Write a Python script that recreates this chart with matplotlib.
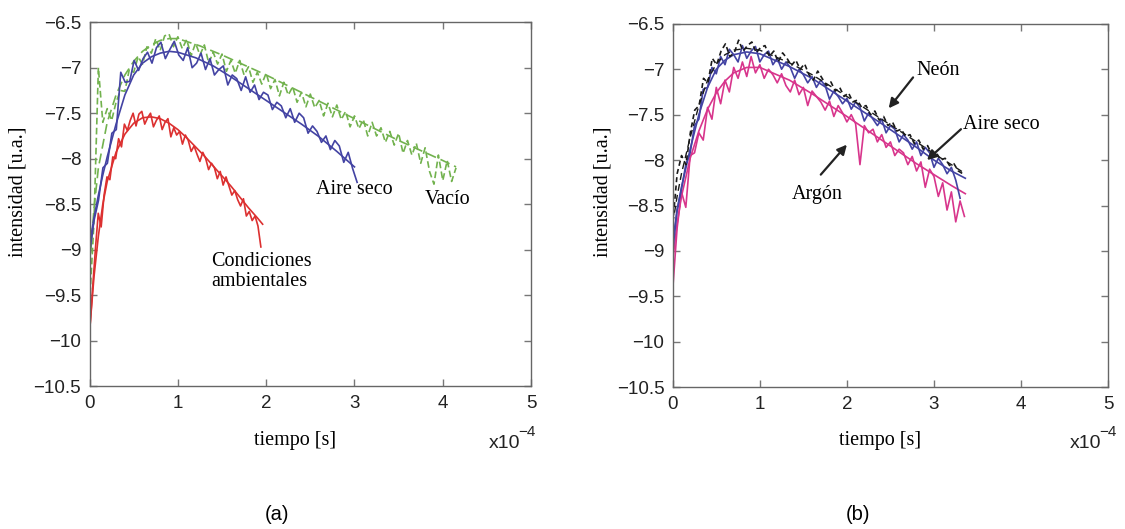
import numpy as np
import matplotlib
matplotlib.use("Agg")
import matplotlib.pyplot as plt

plt.rcParams['font.family'] = ['Liberation Sans', 'DejaVu Sans']

# ---------------- datos (a) ----------------
# tiempo en unidades de 1e-4 s
t_end_cond = 1.94
y_cond = [-9.92, -9.45, -9.00, -8.60, -8.75, -8.40, -8.20, -8.23, -7.98, -8.00,
          -7.78, -7.87, -7.62, -7.69, -7.58, -7.50, -7.64, -7.51, -7.48, -7.62,
          -7.55, -7.50, -7.65, -7.58, -7.53, -7.68, -7.60, -7.56, -7.76, -7.66,
          -7.74, -7.70, -7.84, -7.74, -7.80, -7.92, -7.86, -7.95, -8.03, -7.93,
          -8.00, -8.12, -8.05, -8.10, -8.22, -8.14, -8.29, -8.20, -8.30, -8.40,
          -8.35, -8.45, -8.52, -8.44, -8.63, -8.58, -8.68, -8.63, -8.74, -8.97]
t_cond_fit = [0, 0.05, 0.1, 0.15, 0.2, 0.3, 0.4, 0.5, 0.6, 0.7, 0.8, 0.9, 1.0,
              1.1, 1.2, 1.3, 1.4, 1.5, 1.6, 1.7, 1.8, 1.9, 1.96]
y_cond_fit = [-9.9, -9.3, -8.85, -8.5, -8.25, -7.93, -7.73, -7.61, -7.55, -7.54,
              -7.56, -7.61, -7.68, -7.77, -7.87, -7.97, -8.08, -8.19, -8.3, -8.42,
              -8.54, -8.65, -8.72]

t_end_aire = 3.03
y_aire = [-9.05, -8.68, -8.46, -8.10, -8.05, -7.72, -7.68, -7.05, -7.16, -7.15,
          -6.92, -7.03, -6.90, -6.83, -6.95, -6.78, -6.72, -6.90, -6.80, -6.71,
          -6.86, -6.92, -6.78, -7.00, -6.95, -6.84, -7.02, -6.90, -7.08, -7.02,
          -6.98, -7.19, -7.08, -7.12, -7.25, -7.10, -7.27, -7.19, -7.35, -7.27,
          -7.30, -7.46, -7.38, -7.42, -7.55, -7.45, -7.60, -7.50, -7.55, -7.72,
          -7.64, -7.70, -7.82, -7.75, -7.90, -7.80, -7.86, -8.04, -7.93, -8.11,
          -8.26]
t_aire_fit = [0, 0.05, 0.1, 0.15, 0.2, 0.3, 0.4, 0.5, 0.6, 0.7, 0.8, 0.9, 1.0,
              1.2, 1.4, 1.6, 1.8, 2.0, 2.2, 2.4, 2.6, 2.8, 3.0]
y_aire_fit = [-8.95, -8.65, -8.4, -8.18, -7.98, -7.62, -7.3, -7.08, -6.95, -6.88,
              -6.84, -6.82, -6.83, -6.89, -6.98, -7.1, -7.23, -7.36, -7.49, -7.62,
              -7.76, -7.92, -8.09]

t_end_vacio = 4.15
y_vacio = [-9.60, -8.70, -7.00, -7.60, -7.45, -7.58, -7.38, -7.25, -7.26, -7.02,
           -7.05, -6.88, -6.96, -6.77, -6.84, -6.68, -6.81, -6.65, -6.63, -6.77,
           -6.66, -6.79, -6.69, -6.87, -6.73, -6.86, -6.75, -6.95, -6.83, -6.96,
           -6.85, -7.04, -6.92, -7.06, -6.92, -7.08, -6.99, -7.16, -7.05, -7.18,
           -7.06, -7.23, -7.13, -7.31, -7.16, -7.30, -7.21, -7.38, -7.27, -7.43,
           -7.29, -7.44, -7.36, -7.53, -7.39, -7.54, -7.41, -7.57, -7.48, -7.65,
           -7.53, -7.67, -7.57, -7.75, -7.60, -7.75, -7.66, -7.82, -7.70, -7.85,
           -7.72, -7.94, -7.80, -7.96, -7.83, -8.05, -7.88, -8.14, -8.28, -7.96,
           -8.24, -8.02, -8.25, -8.10]
t_vacio_fit = [0, 0.05, 0.1, 0.2, 0.3, 0.4, 0.5, 0.6, 0.7, 0.8, 0.9, 1.0, 1.25,
               1.5, 1.75, 2.0, 2.5, 3.0, 3.5, 4.0, 4.15]
y_vacio_fit = [-9.2, -8.55, -8.1, -7.6, -7.3, -7.08, -6.93, -6.82, -6.75, -6.7,
               -6.68, -6.68, -6.76, -6.86, -6.97, -7.08, -7.32, -7.56, -7.8, -8.02,
               -8.09]

# ---------------- datos (b) ----------------
t_end_argon = 3.35
y_argon = [-9.42, -8.75, -8.35, -8.52, -7.95, -7.92, -7.70, -7.78, -7.42, -7.55,
           -7.20, -7.38, -7.12, -7.25, -6.98, -7.10, -6.92, -7.08, -6.86, -7.04,
           -6.95, -7.10, -7.00, -7.06, -7.15, -7.05, -7.18, -7.25, -7.12, -7.28,
           -7.20, -7.40, -7.24, -7.30, -7.36, -7.45, -7.35, -7.52, -7.40, -7.48,
           -7.58, -7.50, -7.60, -8.05, -7.62, -7.70, -7.66, -7.80, -7.72, -7.86,
           -7.80, -7.95, -7.88, -7.92, -8.05, -7.96, -8.12, -8.02, -8.30, -8.10,
           -8.18, -8.40, -8.25, -8.55, -8.35, -8.68, -8.45, -8.62]

t_end_aire_b = 3.30
y_aire_b = [-9.00, -8.55, -8.32, -8.05, -7.92, -7.62, -7.55, -7.22, -7.20, -6.98,
            -7.05, -6.86, -6.95, -6.78, -6.84, -6.92, -6.74, -6.88, -6.80, -6.75,
            -6.92, -6.84, -6.80, -6.95, -6.88, -7.00, -6.92, -6.98, -7.10, -7.00,
            -7.06, -7.15, -7.08, -7.20, -7.12, -7.18, -7.33, -7.24, -7.30, -7.38,
            -7.32, -7.44, -7.36, -7.42, -7.57, -7.48, -7.55, -7.62, -7.55, -7.70,
            -7.62, -7.66, -7.80, -7.72, -7.78, -7.88, -7.80, -7.95, -7.86, -7.92,
            -8.08, -7.98, -8.05, -8.15, -8.08, -8.22, -8.42]

t_end_neon = 3.33
y_neon = [-8.70, -8.15, -7.95, -8.05, -7.70, -7.45, -7.40, -7.10, -7.15, -6.88,
          -6.95, -6.80, -6.72, -6.86, -6.82, -6.68, -6.80, -6.74, -6.70, -6.82,
          -6.76, -6.74, -6.86, -6.80, -6.92, -6.82, -6.88, -6.96, -6.90, -7.00,
          -6.94, -7.06, -7.12, -7.02, -7.10, -7.18, -7.14, -7.24, -7.20, -7.30,
          -7.26, -7.36, -7.34, -7.42, -7.40, -7.50, -7.46, -7.56, -7.52, -7.62,
          -7.58, -7.68, -7.66, -7.74, -7.72, -7.82, -7.78, -7.88, -7.84, -7.94,
          -7.92, -8.00, -7.98, -8.06, -8.04, -8.12, -8.15]

t_fit_b = [0, 0.05, 0.1, 0.2, 0.3, 0.4, 0.5, 0.6, 0.7, 0.85, 1.0, 1.34, 1.6, 2.0,
           2.4, 2.8, 3.0, 3.2, 3.36]
y_argon_fit = [-9.1, -8.7, -8.4, -7.98, -7.68, -7.44, -7.26, -7.13, -7.04, -6.98,
               -6.98, -7.12, -7.27, -7.52, -7.78, -8.04, -8.16, -8.28, -8.37]
y_aire_b_fit = [-8.9, -8.55, -8.3, -7.88, -7.5, -7.2, -7.0, -6.9, -6.84, -6.81,
                -6.83, -6.97, -7.1, -7.35, -7.6, -7.86, -8.0, -8.12, -8.2]
y_neon_fit = [-8.7, -8.4, -8.15, -7.75, -7.4, -7.12, -6.94, -6.84, -6.79, -6.77,
              -6.79, -6.93, -7.06, -7.3, -7.55, -7.8, -7.93, -8.05, -8.15]

xticks = [0, 1, 2, 3, 4, 5]
yticks = [-10.5, -10, -9.5, -9, -8.5, -8, -7.5, -7, -6.5]
ytick_labels = ['\u221210.5', '\u221210', '\u22129.5', '\u22129', '\u22128.5',
                '\u22128', '\u22127.5', '\u22127', '\u22126.5']

RED = '#dc3030'
BLUE = '#4343a3'
GREEN = '#72b24e'
MAGENTA = '#d8358c'
BLACK = '#1a1a1a'
SERIF = 'Liberation Serif'


def tiempo(t_end, y):
    # muestreo regular desde 0 hasta t_end
    return np.linspace(0, t_end, len(y))


def estilo(ax):
    ax.set_xlim(0, 5)
    ax.set_ylim(-10.5, -6.5)
    ax.set_xticks(xticks)
    ax.set_yticks(yticks)
    ax.set_yticklabels(ytick_labels)
    ax.tick_params(direction='in', top=True, right=True, length=5, width=1,
                   color='#777777', labelsize=13.5, labelcolor='#222222', pad=6)
    for s in ax.spines.values():
        s.set_color('#666666')
        s.set_linewidth(1.0)


fig = plt.figure(figsize=(11.25, 5.29), dpi=100)

# ---------------- (a) ----------------
ax1 = fig.add_axes([0.0796, 0.270, 0.3925, 0.688])
ax1.plot(tiempo(t_end_vacio, y_vacio), y_vacio, color=GREEN, lw=1.2, ls=(0, (4, 2)))
ax1.plot(t_vacio_fit, y_vacio_fit, color=GREEN, lw=1.2, ls=(0, (6, 3)))
ax1.plot(tiempo(t_end_aire, y_aire), y_aire, color=BLUE, lw=1.2)
ax1.plot(t_aire_fit, y_aire_fit, color=BLUE, lw=1.2)
ax1.plot(tiempo(t_end_cond, y_cond), y_cond, color=RED, lw=1.2)
ax1.plot(t_cond_fit, y_cond_fit, color=RED, lw=1.2)
estilo(ax1)
ax1.text(3.0, -8.335, 'Aire seco', family=SERIF, fontsize=14.5, ha='center', va='center')
ax1.text(4.05, -8.45, 'Vacío', family=SERIF, fontsize=14.5, ha='center', va='center')
ax1.text(1.376, -9.24, 'Condiciones\nambientales', family=SERIF, fontsize=14.5,
         ha='left', va='center', linespacing=1.1)

# ---------------- (b) ----------------
ax2 = fig.add_axes([0.598, 0.268, 0.387, 0.687])
ax2.plot(tiempo(t_end_argon, y_argon), y_argon, color=MAGENTA, lw=1.2)
ax2.plot(t_fit_b, y_argon_fit, color=MAGENTA, lw=1.2)
ax2.plot(tiempo(t_end_aire_b, y_aire_b), y_aire_b, color=BLUE, lw=1.2)
ax2.plot(t_fit_b, y_aire_b_fit, color=BLUE, lw=1.2)
ax2.plot(tiempo(t_end_neon, y_neon), y_neon, color=BLACK, lw=1.2, ls=(0, (3, 2)))
ax2.plot(t_fit_b, y_neon_fit, color=BLACK, lw=1.0, ls=(0, (5, 3)))
estilo(ax2)
ax2.text(3.05, -7.01, 'Neón', family=SERIF, fontsize=14.5, ha='center', va='center')
ax2.text(3.77, -7.61, 'Aire seco', family=SERIF, fontsize=14.5, ha='center', va='center')
ax2.text(1.66, -8.38, 'Argón', family=SERIF, fontsize=14.5, ha='center', va='center')
flecha = dict(arrowstyle='-|>', color='#222222', lw=1.6, mutation_scale=14, shrinkA=0, shrinkB=0)
ax2.annotate('', xy=(2.48, -7.43), xytext=(2.76, -7.09), arrowprops=flecha)
ax2.annotate('', xy=(2.92, -8.0), xytext=(3.31, -7.66), arrowprops=flecha)
ax2.annotate('', xy=(2.0, -7.83), xytext=(1.70, -8.16), arrowprops=flecha)

# etiquetas de ejes y texto de figura
for xl, xc, xe in [(18, 295, 489), (603, 880, 1070)]:
    fig.text(xl / 1125, 1 - 192 / 529, 'intensidad [u.a.]', family=SERIF, fontsize=14.5,
             rotation=90, ha='center', va='center')
    fig.text(xc / 1125, 1 - 440 / 529, 'tiempo [s]', family=SERIF, fontsize=14.5,
             ha='center', va='center')
    fig.text(xe / 1125, 1 - 443 / 529, 'x10', fontsize=14, ha='left', va='center', color='#222222')
    fig.text((xe + 29) / 1125, 1 - 432 / 529, '\u22124', fontsize=11, ha='left', va='center',
             color='#222222')

fig.text(277 / 1125, 1 - 515 / 529, '(a)', fontsize=14.5, ha='center', va='center')
fig.text(858 / 1125, 1 - 515 / 529, '(b)', fontsize=14.5, ha='center', va='center')

fig.savefig('out.png', dpi=100)
